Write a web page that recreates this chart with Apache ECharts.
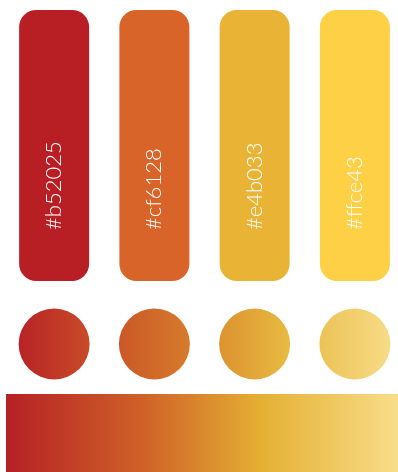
<!DOCTYPE html>
<html>
<head>
<meta charset="utf-8">
<script src="https://cdn.jsdelivr.net/npm/echarts@6/dist/echarts.min.js"></script>
<style>
html,body{margin:0;padding:0;background:#fff;}
#chart{width:398px;height:472px;}
</style>
</head>
<body>
<div id="chart"></div>
<script>
const labels = ['#b52025', '#cf6128', '#e4b033', '#ffce43'];
const swatchColors = ['#b81f25', '#d8642a', '#e9b336', '#fdd045'];
const swatchValues = [1, 1, 1, 1];
const circleValues = [0.5, 0.5, 0.5, 0.5];
const circleStart = ['#b72226', '#cb5827', '#dc932f', '#ecc256'];
const circleEnd = ['#c84c28', '#d67b2c', '#e8bb42', '#f7dc87'];
const rampValue = [1];
const rampStops = [0, 0.35, 0.65, 1];
const rampColors = ['#b52025', '#cf6128', '#e4b033', '#f8dd89'];

const chart = echarts.init(document.getElementById('chart'), null, {renderer: 'canvas'});

const hiddenCat = {type: 'category', data: labels, show: false};
const option = {
  animation: false,
  backgroundColor: '#ffffff',
  grid: [
    {left: 4, right: -7, top: 10, height: 271, outerBoundsMode: 'none', containLabel: false},
    {left: 4, right: -7, top: 309, height: 70, outerBoundsMode: 'none', containLabel: false},
    {left: 6, right: 0, top: 394, height: 78, outerBoundsMode: 'none', containLabel: false}
  ],
  xAxis: [
    Object.assign({gridIndex: 0}, hiddenCat),
    Object.assign({gridIndex: 1}, hiddenCat),
    {gridIndex: 2, type: 'value', min: 0, max: 1, show: false}
  ],
  yAxis: [
    {gridIndex: 0, type: 'value', min: 0, max: 1, show: false},
    {gridIndex: 1, type: 'value', min: 0, max: 1, show: false},
    {gridIndex: 2, type: 'category', data: ['ramp'], show: false}
  ],
  series: [
    {
      type: 'bar',
      xAxisIndex: 0, yAxisIndex: 0,
      barWidth: 70,
      data: swatchValues.map((v, i) => ({
        value: v,
        itemStyle: {color: swatchColors[i], borderRadius: 17},
        label: {formatter: labels[i]}
      })),
      label: {
        show: true,
        position: 'insideBottom',
        distance: 51,
        rotate: 90,
        align: 'left',
        verticalAlign: 'middle',
        color: '#ffffff',
        fontFamily: 'Lato',
        fontWeight: 300,
        fontSize: 22
      }
    },
    {
      type: 'scatter',
      xAxisIndex: 1, yAxisIndex: 1,
      symbol: 'circle',
      symbolSize: 71,
      itemStyle: {opacity: 1},
      data: circleValues.map((v, i) => ({
        value: v,
        itemStyle: {
          opacity: 1,
          color: new echarts.graphic.LinearGradient(0, 0, 1, 0, [
            {offset: 0, color: circleStart[i]},
            {offset: 1, color: circleEnd[i]}
          ])
        }
      }))
    },
    {
      type: 'bar',
      xAxisIndex: 2, yAxisIndex: 2,
      barWidth: '100%',
      data: rampValue,
      itemStyle: {
        color: new echarts.graphic.LinearGradient(0, 0, 1, 0,
          rampStops.map((o, i) => ({offset: o, color: rampColors[i]})))
      }
    }
  ]
};
chart.setOption(option);
</script>
</body>
</html>
